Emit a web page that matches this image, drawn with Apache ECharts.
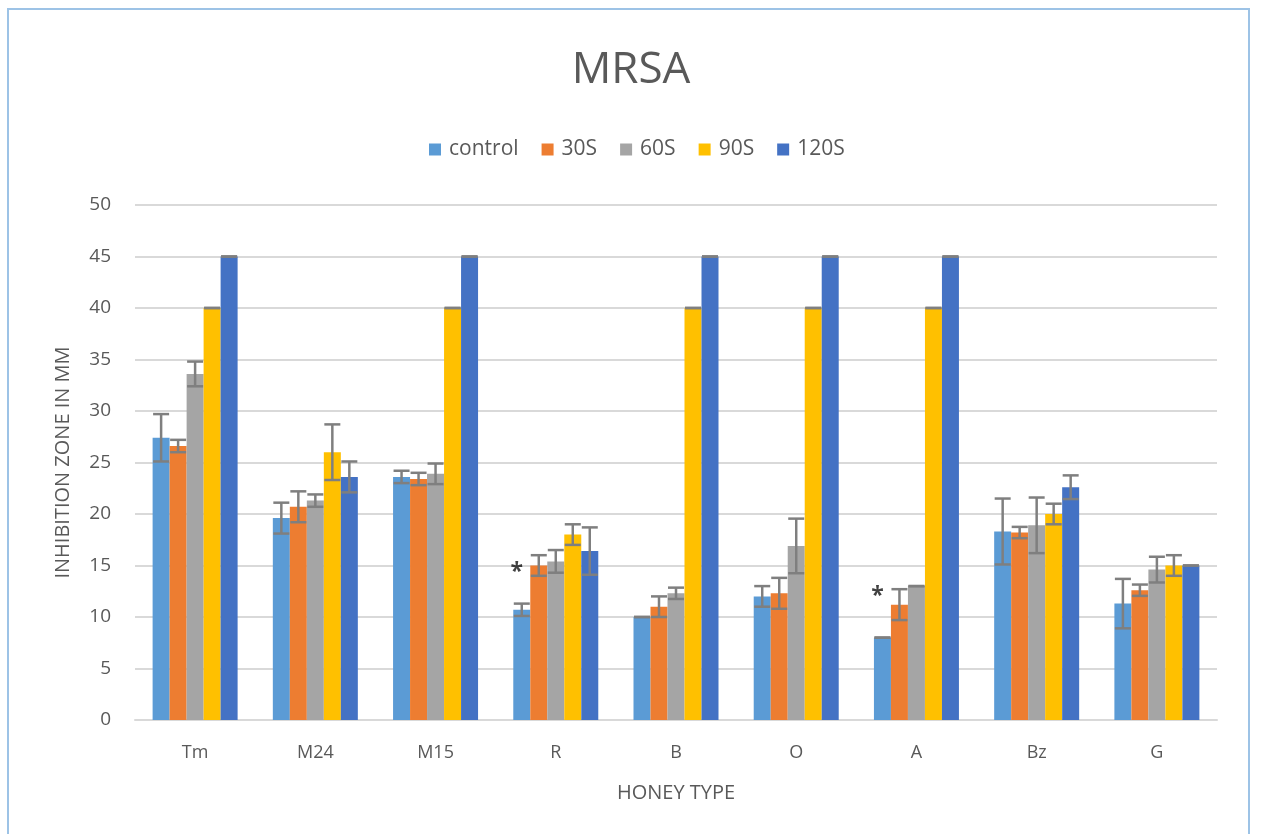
<!DOCTYPE html>
<html>
<head>
<meta charset="utf-8">
<script src="https://cdn.jsdelivr.net/npm/echarts@6/dist/echarts.min.js"></script>
<style>
  html, body { margin: 0; padding: 0; background: #fff; }
  .frame {
    position: absolute; left: 7px; top: 8px; width: 1243px; height: 840px;
    border: 2px solid #9dc3e6; box-sizing: border-box;
  }
  #chart { position: absolute; left: 0; top: 0; width: 1262px; height: 834px; }
</style>
</head>
<body>
<div class="frame"></div>
<div id="chart"></div>
<script>
// categories and series
const honeyTypes = ['Tm', 'M24', 'M15', 'R', 'B', 'O', 'A', 'Bz', 'G']
const seriesNames = ['control', '30S', '60S', '90S', '120S']

const controlVals = [27.4, 19.6, 23.6, 10.7, 10.0, 12.0, 8.0, 18.3, 11.3]
const s30Vals     = [26.6, 20.7, 23.4, 15.0, 11.0, 12.3, 11.2, 18.2, 12.6]
const s60Vals     = [33.6, 21.3, 23.9, 15.4, 12.3, 16.9, 13.0, 18.9, 14.6]
const s90Vals     = [40, 26.0, 40, 18.0, 40, 40, 40, 20.0, 15.0]
const s120Vals    = [45, 23.6, 45, 16.4, 45, 45, 45, 22.6, 15.0]

// error (+/-)
const controlErr = [2.3, 1.5, 0.6, 0.6, 0, 1.0, 0, 3.2, 2.4]
const s30Err     = [0.6, 1.5, 0.6, 1.0, 1.0, 1.5, 1.5, 0.55, 0.55]
const s60Err     = [1.2, 0.6, 1.0, 1.1, 0.55, 2.65, 0, 2.7, 1.25]
const s90Err     = [0, 2.7, 0, 1.0, 0, 0, 0, 1.0, 1.0]
const s120Err    = [0, 1.5, 0, 2.3, 0, 0, 0, 1.15, 0]

// significance marks
const starCats = ['R', 'A']
const starVals = [14.8, 12.5]

const colors = ['#5b9bd5', '#ed7d31', '#a5a5a5', '#ffc000', '#4472c4']
const allVals = [controlVals, s30Vals, s60Vals, s90Vals, s120Vals]
const allErr = [controlErr, s30Err, s60Err, s90Err, s120Err]

const BAR_W = 17
const FONT = '"Open Sans", "Noto Sans", sans-serif'
const TXT = '#595959'

const chart = echarts.init(document.getElementById('chart'))

let series = []
allVals.forEach((vals, i) => {
  series.push({
    name: seriesNames[i],
    type: 'bar',
    data: vals,
    barWidth: BAR_W,
    barGap: '0%',
    itemStyle: { color: colors[i] },
    z: 2
  })
})

// error bars drawn on top of each bar
allVals.forEach((vals, i) => {
  series.push({
    name: seriesNames[i] + ' err',
    type: 'custom',
    z: 5,
    silent: true,
    data: vals.map((v, k) => [k, v, allErr[i][k]]),
    encode: { x: 0, y: 1 },
    renderItem(params, api) {
      const cat = api.value(0)
      const v = api.value(1)
      const e = api.value(2)
      const off = (i - 2) * BAR_W
      const hi = api.coord([cat, v + e])
      const lo = api.coord([cat, v - e])
      const x = hi[0] + off
      const half = BAR_W / 2 - 0.5
      const style = { stroke: '#7f7f7f', lineWidth: 2.5 }
      return {
        type: 'group',
        children: [
          { type: 'line', shape: { x1: x, y1: hi[1], x2: x, y2: lo[1] }, style },
          { type: 'line', shape: { x1: x - half, y1: hi[1], x2: x + half, y2: hi[1] }, style },
          { type: 'line', shape: { x1: x - half, y1: lo[1], x2: x + half, y2: lo[1] }, style }
        ]
      }
    }
  })
})

series.push({
  name: 'stars',
  type: 'scatter',
  symbolSize: 0,
  silent: true,
  data: starCats.map((c, k) => [c, starVals[k]]),
  label: {
    show: true,
    formatter: '*',
    position: 'inside',
    offset: [-39, 5],
    fontSize: 23,
    fontWeight: 'bold',
    color: '#111',
    fontFamily: FONT
  },
  z: 6
})

let option = {
  backgroundColor: 'transparent',
  animation: false,
  title: {
    text: 'MRSA',
    left: 'center',
    top: 43,
    textStyle: { fontSize: 44, fontWeight: 'normal', color: TXT, fontFamily: FONT }
  },
  legend: {
    data: seriesNames,
    top: 134,
    left: 424,
    itemWidth: 12,
    itemHeight: 12,
    itemGap: 23,
    icon: 'rect',
    textStyle: { fontSize: 21, color: TXT, fontFamily: FONT, padding: [0, 0, 0, 3] }
  },
  grid: {
    left: 135,
    right: 45,
    top: 205,
    bottom: 114
  },
  xAxis: {
    type: 'category',
    data: honeyTypes,
    name: 'HONEY TYPE',
    nameLocation: 'middle',
    nameGap: 63,
    nameTextStyle: { fontSize: 20, color: TXT, fontFamily: FONT },
    axisLine: { lineStyle: { color: '#d9d9d9', width: 2 } },
    axisTick: { show: false },
    axisLabel: { fontSize: 18, color: TXT, fontFamily: FONT, margin: 24 }
  },
  yAxis: {
    type: 'value',
    min: 0,
    max: 50,
    interval: 5,
    name: 'INHIBITION ZONE IN MM',
    nameLocation: 'middle',
    nameGap: 62,
    nameTextStyle: { fontSize: 20, color: TXT, fontFamily: FONT },
    axisLine: { show: false },
    axisTick: { show: false },
    axisLabel: { fontSize: 19, color: TXT, fontFamily: FONT, margin: 24 },
    splitLine: { lineStyle: { color: '#d9d9d9', width: 2 } }
  },
  series: series
}
chart.setOption(option)
</script>
</body>
</html>
